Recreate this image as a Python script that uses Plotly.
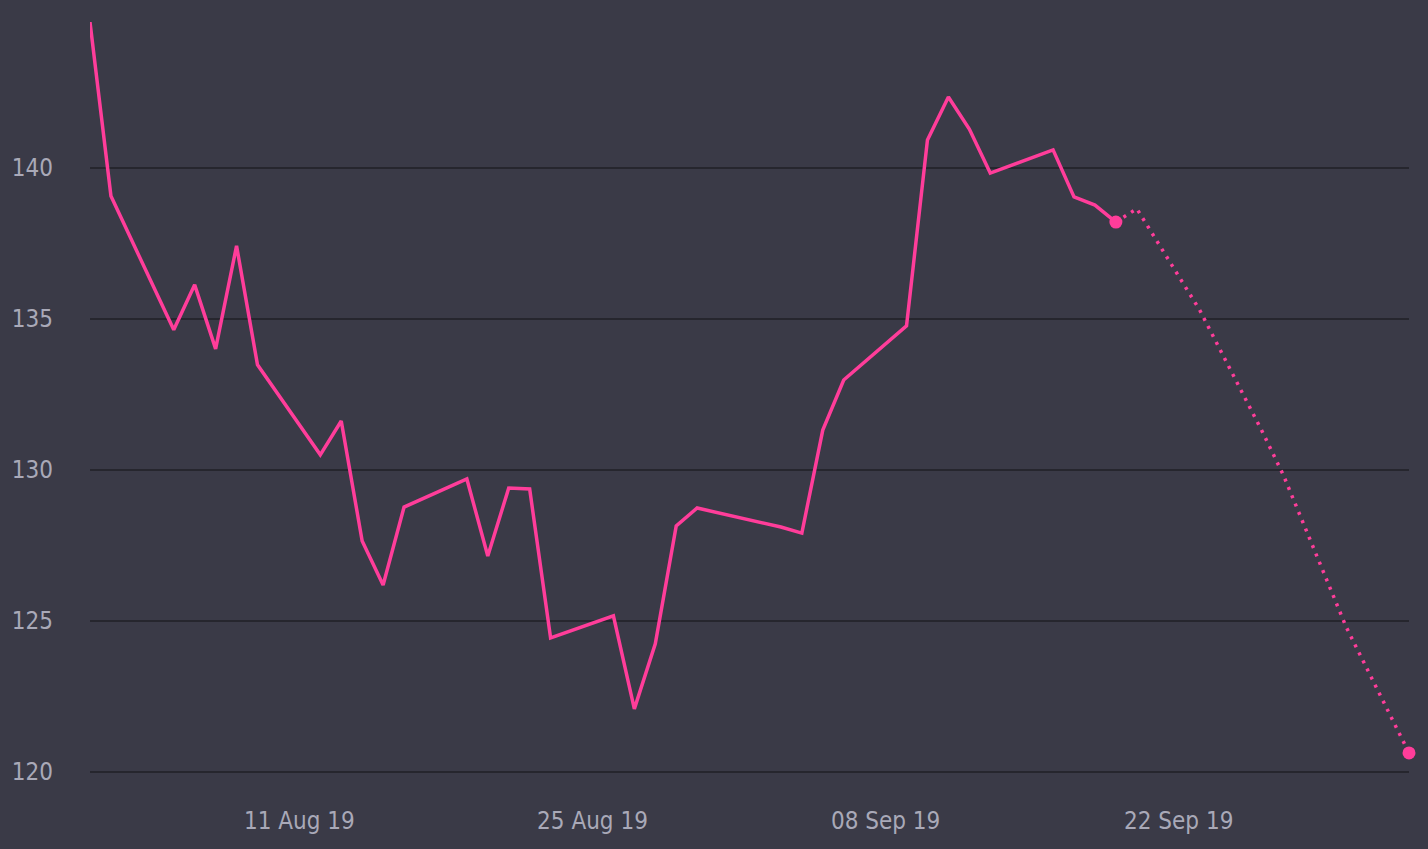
import plotly.graph_objects as go

# observed closing values
dates = [
    "2019-08-01", "2019-08-02", "2019-08-05", "2019-08-06", "2019-08-07",
    "2019-08-08", "2019-08-09", "2019-08-12", "2019-08-13", "2019-08-14",
    "2019-08-15", "2019-08-16", "2019-08-19", "2019-08-20", "2019-08-21",
    "2019-08-22", "2019-08-23", "2019-08-26", "2019-08-27", "2019-08-28",
    "2019-08-29", "2019-08-30", "2019-09-03", "2019-09-04", "2019-09-05",
    "2019-09-06", "2019-09-09", "2019-09-10", "2019-09-11", "2019-09-12",
    "2019-09-13", "2019-09-16", "2019-09-17", "2019-09-18", "2019-09-19",
]
prices = [
    144.83, 139.07, 134.64, 136.13, 134.01,
    137.42, 133.48, 130.50, 131.62, 127.65,
    126.19, 128.77, 129.70, 127.15, 129.40,
    129.37, 124.44, 125.17, 122.09, 124.24,
    128.15, 128.74, 128.11, 127.91, 131.32,
    132.98, 134.77, 140.93, 142.35, 141.29,
    139.83, 140.60, 139.04, 138.77, 138.21,
]

# forecast continuation
forecast_dates = ["2019-09-19", "2019-09-20", "2019-09-23", "2019-09-26",
                  "2019-09-27", "2019-09-30", "2019-10-03"]
forecast_prices = [138.21, 138.65, 135.30, 131.26, 129.83, 124.80, 120.63]

y_ticks = [120, 125, 130, 135, 140]

PINK = "#ff3d9a"
BG = "#3a3a47"
GRID = "#26262e"
TEXT = "#a9a9b8"
FONT = "Liberation Sans Narrow, DejaVu Sans Condensed, Roboto, sans-serif"

fig = go.Figure()

fig.add_trace(go.Scatter(
    x=forecast_dates, y=forecast_prices,
    mode="lines",
    line=dict(color=PINK, width=3.5, dash="3px,6px"),
    hoverinfo="skip",
))

fig.add_trace(go.Scatter(
    x=dates, y=prices,
    mode="lines",
    line=dict(color=PINK, width=3.5),
))

# end-point markers
fig.add_trace(go.Scatter(
    x=[dates[-1], forecast_dates[-1]],
    y=[prices[-1], forecast_prices[-1]],
    mode="markers",
    marker=dict(color=PINK, size=13),
    cliponaxis=False,
))

fig.update_layout(
    width=1428, height=849,
    paper_bgcolor=BG, plot_bgcolor=BG,
    showlegend=False,
    margin=dict(l=87, r=19, t=20, b=55),
    font=dict(family=FONT, size=24, color=TEXT),
    xaxis=dict(
        range=["2019-08-01", "2019-10-03"],
        tickformat="%d %b %y",
        tick0="2019-08-11",
        dtick=14 * 86400000,
        showgrid=False,
        zeroline=False,
        showline=False,
        ticks="",
        ticklabelstandoff=10,
    ),
    yaxis=dict(
        range=[119.27, 144.9],
        tickvals=y_ticks,
        showgrid=True,
        gridcolor=GRID,
        gridwidth=2,
        zeroline=False,
        showline=False,
        ticks="",
        ticklabelstandoff=36,
    ),
)

fig.write_html(
    "out.html",
    config={"displayModeBar": False},
    post_script="document.body.style.margin='0';document.body.style.overflow='hidden';",
)
